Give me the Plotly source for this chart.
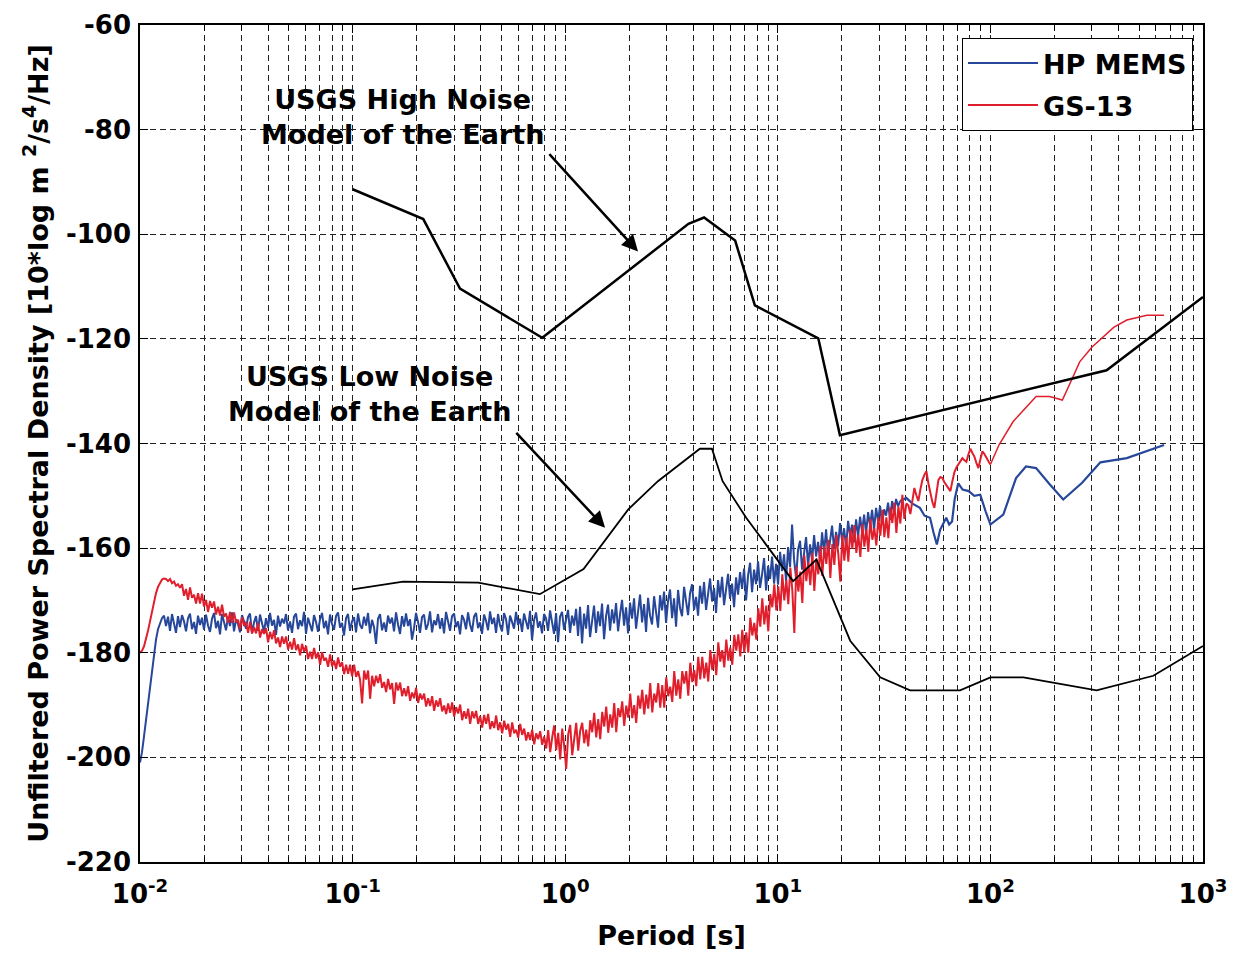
import numpy as np
import plotly.graph_objects as go

# ---------------- data ----------------
# HP MEMS: densely sampled noisy PSD, log-spaced period bins from 0.01 s to 37.6 s
mems_dense_end = 37.6
mems_dense = [
    -201.0, -199.0, -196.0, -193.0, -190.0, -187.0, -183.0, -180.0, -177.5, -175.5, -174.3, -173.4, -172.9,
    -174.9, -173.1, -175.8, -172.6, -174.4, -176.2, -173.0, -175.1, -172.8, -174.0, -175.9, -173.4, -172.5, -175.5, -174.1, -176.4, -172.9, -174.7, -173.3, -175.6,
    -172.7, -174.8, -176.0, -173.5, -172.4, -175.3, -173.9, -176.5, -172.6, -174.3, -175.7, -173.1, -174.9, -172.3, -175.9, -173.6, -174.5, -176.1, -172.8, -174.0,
    -175.4, -173.2, -172.5, -176.3, -174.2, -173.0, -175.8, -172.7, -174.6, -176.0, -173.4, -175.2, -172.4, -174.8, -173.7, -176.6, -172.9, -175.0, -173.5, -174.4,
    -172.6, -175.7, -174.0, -176.2, -173.1, -172.5, -175.5, -173.8, -174.9, -172.2, -176.4, -173.3, -174.6, -175.9, -172.8, -174.1, -176.0, -173.6, -172.4, -175.3,
    -173.9, -176.5, -172.7, -174.5, -175.6, -173.0, -172.3, -175.2, -174.3, -176.7, -173.4, -172.6, -175.8, -174.0, -173.2, -176.1, -172.5, -174.7, -175.4, -173.1,
    -174.8, -172.4, -176.3, -173.7, -175.1, -178.3, -173.5, -172.6, -175.7, -174.2, -176.0, -172.9, -174.4, -173.3, -175.9, -172.3, -174.6, -176.4, -173.0, -175.0,
    -172.5, -174.9, -173.6, -177.5, -175.3, -172.4, -174.1, -176.2, -173.2, -172.7, -175.6, -174.5, -172.1, -176.1, -173.8, -174.7, -172.6, -175.4, -173.4, -176.3,
    -172.2, -174.3, -175.8, -173.0, -172.5, -175.1, -174.0, -176.5, -172.8, -173.7, -175.5, -172.3, -174.6, -176.0, -173.1, -172.4, -175.3, -174.2, -176.4, -172.7,
    -173.9, -175.7, -172.1, -174.5, -173.3, -176.2, -172.6, -174.8, -175.9, -172.4, -173.6, -176.6, -172.9, -174.1, -175.4, -172.2, -174.7, -173.5, -176.0, -172.5,
    -174.2, -175.5, -172.0, -177.6, -173.8, -172.3, -175.2, -174.0, -176.3, -172.6, -173.4, -175.8, -171.9, -174.6, -176.4, -172.4, -178.0, -173.1, -172.2, -175.6,
    -173.7, -171.8, -176.2, -172.9, -174.8, -171.6,
    -176.8, -171.2, -178.2, -172.5, -175.4, -170.9, -177.0, -173.6, -171.0, -176.2, -172.1, -174.9, -170.6, -177.4, -173.0, -170.8, -175.8, -171.7, -174.4, -170.5,
    -175.9, -172.6, -169.9, -174.8, -171.3, -176.3, -170.4, -173.5, -169.6, -175.4, -171.8, -168.9, -174.2, -170.7, -176.0, -169.5, -172.9, -174.6, -169.2, -172.0,
    -175.2, -169.0, -171.9, -168.3, -174.3, -170.1, -167.9, -173.4, -169.6, -175.0, -168.0, -171.5, -173.0, -167.4, -170.4, -172.8, -168.6, -166.9, -171.8, -169.3,
    -172.9, -167.2, -170.6, -166.5, -171.8, -168.9, -165.8, -170.2, -167.6, -172.4, -166.1, -169.4, -165.5, -170.9, -168.2, -164.9, -169.7, -166.8, -171.3, -165.6,
    -168.9, -164.6, -167.8, -163.9, -170.0, -165.2, -162.8, -168.4, -164.1, -166.9, -162.5, -167.6, -165.0, -161.9, -168.1, -163.4, -165.9, -161.6, -166.8, -163.0,
    -167.0, -160.7, -164.4, -161.2, -166.3, -159.8, -163.6, -155.5, -162.2, -165.7, -160.3, -158.6, -164.1, -161.0, -157.9, -163.4, -159.3, -162.4, -157.5, -161.6,
    -158.8, -162.3, -157.0, -160.9, -156.4, -161.5, -158.0, -155.7, -160.2, -156.9, -159.6, -155.2, -158.7, -156.2, -159.9, -154.8, -157.6, -155.5, -158.9, -154.5,
    -157.8, -154.0, -156.9, -153.6, -157.2, -153.1, -155.8, -152.7, -156.4, -152.3, -154.9, -151.9, -155.5, -152.6, -153.8, -151.3, -154.6, -151.0, -153.2, -150.6, -152.0, -151.0,
]
# HP MEMS: smoothed long-period part
mems_period = [40.2, 43, 46.6, 49, 52, 54, 56, 58, 62, 64, 66, 68, 70.6, 74, 79, 84,
               89.6, 95, 100, 115, 132, 147, 164, 190, 220, 270, 329, 438, 656]
mems_psd = [-150.4, -151.5, -152.3, -153.8, -154.2, -157.0, -159.3, -156.5, -154.2,
            -155.5, -154.9, -150.5, -147.6, -148.8, -149.1, -150.0, -149.8, -153.0,
            -155.5, -153.6, -146.6, -144.4, -144.7, -147.8, -150.7, -147.5, -143.6,
            -142.8, -140.3]

# GS-13: densely sampled noisy PSD, log-spaced period bins from 0.01 s to 100 s
gs13_dense_end = 100.0
gs13_dense = [
    -180.0, -179.6, -178.8, -177.5, -175.8, -174.0, -172.0, -170.0, -168.6, -167.4, -166.6, -166.0, -165.8, -165.9, -166.3, -165.9, -166.7, -166.4, -167.2, -166.9, -167.6,
    -166.9, -169.1, -167.8, -169.9, -167.5, -169.5, -168.9, -170.6, -168.6, -170.6, -168.7, -171.2, -169.9, -172.2, -170.1, -171.4, -170.2, -172.7, -171.2, -172.9,
    -170.8, -173.1, -172.5, -174.3, -172.2, -174.3, -172.3, -174.2, -173.7, -175.5,
    -173.2, -174.9, -174.1, -176.2, -174.1, -176.3, -175.1, -176.3, -174.3, -177.1, -175.5, -176.4, -175.3, -178.0, -176.0, -177.4, -175.7, -178.2, -177.1, -178.9,
    -176.9, -178.3, -176.9, -179.4, -177.9, -179.4, -177.2, -179.5, -178.4, -180.5, -178.3, -179.8, -178.7, -181.2, -179.8, -181.2, -179.1, -181.1, -179.9, -182.3,
    -179.9, -181.5, -181.0, -182.7, -180.3, -182.6, -181.5, -183.1, -180.9, -182.7, -181.8, -184.1, -182.3, -184.0, -182.3, -184.5,
    -182.3, -184.6, -183.5, -185.2, -189.7, -183.4, -185.1, -183.4, -188.8, -184.4, -186.4, -184.4, -185.8, -184.1, -186.7, -185.6, -187.5, -185.0, -187.0, -185.8,
    -189.8, -185.7, -187.2, -185.7, -188.3, -186.8, -188.3, -186.4, -189.2, -187.6, -188.7, -186.7, -189.6, -187.8, -188.9, -187.8, -190.3, -188.7, -190.2, -188.3,
    -191.1, -189.1, -190.3, -188.7, -191.2, -190.1, -191.7, -189.7, -191.5, -189.5,
    -192.2, -190.4, -191.6, -189.9, -192.9, -191.2, -192.6, -190.7, -193.6, -191.2, -192.5, -191.1, -193.6, -192.1, -194.3, -191.9, -193.6, -191.7, -194.6, -193.1,
    -194.4, -192.0, -194.8, -193.3, -195.4, -193.0, -194.7, -193.6, -196.1, -193.3, -195.4, -194.7, -196.2, -193.6, -195.7, -194.5, -196.8, -195.2, -196.7, -194.7,
    -197.5, -195.4, -196.5, -195.0, -197.6, -196.0, -198.3,
    -194.8, -199.0, -196.2, -193.9, -198.6, -195.3, -200.4, -194.5, -197.8, -202.2, -195.6, -193.8, -199.6, -196.0, -193.4, -198.7, -194.9,
    -193.4, -197.3, -194.7, -197.9, -192.9, -195.2, -191.5, -196.2, -192.7, -196.5, -191.3, -194.1, -190.3, -195.3, -191.8, -194.3, -189.6, -195.2, -190.6, -192.3,
    -189.3, -194.0, -190.1, -192.4, -187.8, -192.5, -190.0, -193.4, -188.2, -190.7, -187.1, -191.8, -188.0, -190.7, -185.8, -191.4, -187.8, -189.5, -185.8, -190.5,
    -186.2, -190.5, -184.7, -188.3, -186.5, -189.4, -183.5, -188.2, -185.1, -188.8, -183.5, -185.9, -183.5, -188.2, -181.9, -185.6, -183.3, -186.4, -180.8, -185.1,
    -180.8, -184.9, -181.9, -185.5, -179.5, -183.3, -180.2, -184.3, -178.0, -181.7, -179.5, -182.8, -177.5, -181.5, -179.0, -182.3, -176.6, -179.6, -176.5, -180.7,
    -175.6, -180.0, -176.1, -180.0, -173.3, -176.7, -174.3, -177.5, -171.5, -175.0, -169.6, -174.6, -171.0, -175.9, -168.8, -171.3, -166.9, -171.9, -167.3, -172.0,
    -165.0, -170.0, -166.1, -170.7, -163.7, -168.0, -176.2, -163.5, -168.3, -164.5, -170.5, -161.4, -166.3, -162.6, -167.1, -160.9, -168.2, -162.0, -165.0, -159.6,
    -165.3, -159.6, -163.0, -158.4, -165.7, -159.2, -163.2, -157.5, -161.2, -166.4, -157.5, -162.4, -157.9, -162.6, -156.4, -160.1, -155.6, -160.9, -157.4, -161.7,
    -155.4, -159.7, -156.4, -160.7, -154.4, -158.4, -156.2, -159.5, -154.1, -157.6, -152.7, -157.9, -154.1, -158.1, -152.2, -155.2, -151.3, -157.1, -152.0, -155.3, -149.8, -154.4, -151.5,
    -151.8, -153.5, -150.6, -148.5, -149.9, -151.0, -148.8, -147.0, -146.0, -145.3, -147.6, -149.5, -151.2, -152.3, -149.4, -147.0, -146.4, -146.6, -147.4, -148.0, -148.7,
    -149.1, -147.2, -145.5, -144.6, -144.0, -143.3, -142.8, -143.2, -143.5, -142.1, -141.0, -141.8, -142.5, -143.7, -144.7, -143.0, -141.5, -142.0, -142.8, -143.4, -144.0,
]
# GS-13: smoothed long-period part
gs13_period = [100, 110, 128, 147, 164, 190, 218, 240, 263, 300, 334, 380, 438, 545, 656]
gs13_psd = [-144.0, -140.2, -135.8, -133.0, -131.0, -131.0, -131.7, -128.0, -124.4,
            -121.6, -119.9, -117.8, -116.4, -115.5, -115.5]

# USGS (Peterson) high / low noise models
nhnm_period = [0.1, 0.215, 0.32, 0.78, 3.8, 4.5, 6.3, 7.8, 15.5, 19.6, 352, 1000]
nhnm_psd = [-91.4, -97.1, -110.4, -119.8, -98.0, -96.8, -101.2, -113.6, -119.9,
            -138.4, -126.0, -112.0]
nlnm_period = [0.1, 0.173, 0.39, 0.76, 1.22, 1.98, 2.73, 4.3, 4.9, 5.5, 7.1, 11.8,
               15.2, 21.9, 30.3, 41.9, 72, 100, 143, 316, 584, 1000]
nlnm_psd = [-167.9, -166.4, -166.6, -168.8, -164.0, -152.6, -147.2, -141.0, -141.0,
            -147.2, -154.2, -166.3, -162.2, -177.7, -184.7, -187.2, -187.2, -184.7,
            -184.7, -187.2, -184.4, -178.7]

x_tickvals = [0.01, 0.1, 1, 10, 100, 1000]
x_ticktext = ["10<sup>-2</sup>", "10<sup>-1</sup>", "10<sup>0</sup>",
              "10<sup>1</sup>", "10<sup>2</sup>", "10<sup>3</sup>"]
y_tickvals = [-220, -200, -180, -160, -140, -120, -100, -80, -60]
y_ticktext = [str(v) for v in y_tickvals]

BLUE = "#27479a"
RED = "#e01f2d"
FONT = "DejaVu Sans"

mems_dense_period = np.logspace(-2, np.log10(mems_dense_end), len(mems_dense))
gs13_dense_period = np.logspace(-2, np.log10(gs13_dense_end), len(gs13_dense))

fig = go.Figure()
fig.add_trace(go.Scatter(x=mems_dense_period, y=mems_dense, mode="lines",
                         name="HP MEMS", legendgroup="mems",
                         line=dict(color=BLUE, width=2)))
fig.add_trace(go.Scatter(x=[mems_dense_period[-1]] + mems_period,
                         y=[mems_dense[-1]] + mems_psd, mode="lines",
                         name="HP MEMS", legendgroup="mems", showlegend=False,
                         line=dict(color=BLUE, width=2.2)))
fig.add_trace(go.Scatter(x=gs13_dense_period, y=gs13_dense, mode="lines",
                         name="GS-13", legendgroup="gs13",
                         line=dict(color=RED, width=2)))
fig.add_trace(go.Scatter(x=gs13_period, y=gs13_psd, mode="lines",
                         name="GS-13", legendgroup="gs13", showlegend=False,
                         line=dict(color=RED, width=1.5)))
fig.add_trace(go.Scatter(x=nhnm_period, y=nhnm_psd, mode="lines",
                         name="USGS High Noise Model", showlegend=False,
                         line=dict(color="black", width=2.5)))
fig.add_trace(go.Scatter(x=nlnm_period, y=nlnm_psd, mode="lines",
                         name="USGS Low Noise Model", showlegend=False,
                         line=dict(color="black", width=1.8)))

lbl_font = dict(family=FONT, size=27, color="black", weight="bold")

# text labels
fig.add_annotation(x=np.log10(0.171), y=-77.6, xref="x", yref="y",
                   text="USGS High Noise<br>Model of the Earth", showarrow=False,
                   font=lbl_font, align="center")
fig.add_annotation(x=np.log10(0.120), y=-130.6, xref="x", yref="y",
                   text="USGS Low Noise<br>Model of the Earth", showarrow=False,
                   font=lbl_font, align="center")
# arrows
fig.add_annotation(x=np.log10(2.2), y=-103.3, ax=np.log10(0.83), ay=-84.4,
                   xref="x", yref="y", axref="x", ayref="y", text="",
                   showarrow=True, arrowhead=2, arrowsize=1.3, arrowwidth=2.5,
                   arrowcolor="black")
fig.add_annotation(x=np.log10(1.54), y=-156.1, ax=np.log10(0.58), ay=-137.7,
                   xref="x", yref="y", axref="x", ayref="y", text="",
                   showarrow=True, arrowhead=2, arrowsize=1.3, arrowwidth=2.5,
                   arrowcolor="black")

grid = dict(gridcolor="#222222", gridwidth=1, griddash="6px,4px")

fig.update_xaxes(type="log", range=[-2, 3], tickvals=x_tickvals, ticktext=x_ticktext,
                 ticks="inside", ticklen=8, tickwidth=1, tickcolor="black",
                 showline=True, linecolor="black", linewidth=1.5, mirror="allticks",
                 showgrid=True, **grid, ticklabelstandoff=8, automargin=False,
                 ticklabeloverflow="allow",
                 tickfont=dict(family=FONT, size=26, color="black", weight="bold"),
                 minor=dict(ticks="inside", ticklen=5, tickcolor="black", dtick="D1",
                            showgrid=True, gridcolor="#222222", gridwidth=1,
                            griddash="6px,4px"),
                 title=dict(text="Period [s]", standoff=18,
                            font=dict(family=FONT, size=27, color="black", weight="bold")),
                 zeroline=False)
fig.update_yaxes(range=[-220, -60], tickvals=y_tickvals, ticktext=y_ticktext,
                 ticks="inside", ticklen=8, tickwidth=1, tickcolor="black",
                 showline=True, linecolor="black", linewidth=1.5, mirror="allticks",
                 showgrid=True, **grid, ticklabelstandoff=2, automargin=False,
                 ticklabeloverflow="allow",
                 tickfont=dict(family=FONT, size=26, color="black", weight="bold"),
                 title=dict(text="Unfiltered Power Spectral Density [10*log m <sup>2</sup>/s<sup>4</sup>/Hz]",
                            standoff=10,
                            font=dict(family=FONT, size=27, color="black", weight="bold")),
                 zeroline=False)

# page has an 8 px body margin, so the figure is 8 px smaller and shifted margins
fig.update_layout(
    width=1228, height=947,
    margin=dict(l=132, r=33, t=17, b=93, autoexpand=False),
    plot_bgcolor="white", paper_bgcolor="white",
    legend=dict(x=0.9906, y=0.9845, xanchor="right", yanchor="top",
                bgcolor="white", bordercolor="black", borderwidth=1,
                font=dict(family=FONT, size=27, color="black", weight="bold"),
                itemwidth=70, tracegroupgap=4),
    showlegend=True,
)

fig.write_html("out.html")
